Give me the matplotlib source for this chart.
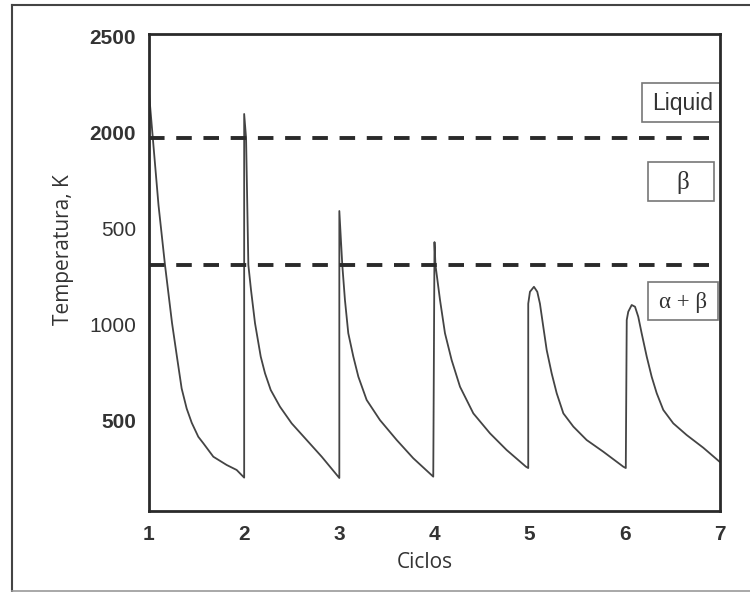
import matplotlib
matplotlib.use("Agg")
import matplotlib.pyplot as plt
from matplotlib.lines import Line2D
from matplotlib.patches import Rectangle

# temperature history (cycle number, K)
ciclos = [1.0, 1.04, 1.10, 1.168, 1.242, 1.294, 1.343, 1.396, 1.449, 1.518, 1.571, 1.676, 1.816, 1.921, 2.0,
          2.0, 2.02, 2.044, 2.072, 2.114, 2.174, 2.219, 2.279, 2.376, 2.499, 2.657, 2.815, 3.0,
          3.0, 3.031, 3.059, 3.094, 3.147, 3.2, 3.287, 3.427, 3.603, 3.777, 3.987,
          4.0, 4.01, 4.058, 4.11, 4.18, 4.268, 4.408, 4.583, 4.758, 4.961,
          4.985, 4.985, 5.003, 5.045, 5.08, 5.108, 5.143, 5.179, 5.231, 5.284, 5.354, 5.459, 5.599, 5.774, 5.984,
          6.01, 6.02, 6.036, 6.072, 6.107, 6.141, 6.177, 6.23, 6.282, 6.335, 6.404, 6.509, 6.65, 6.824, 7.0]
temp = [2205, 1971, 1620, 1309, 1006, 829, 665, 560, 486, 413, 379, 309, 266, 240, 200,
        2096, 1971, 1309, 1178, 1005, 831, 744, 657, 570, 483, 396, 309, 198,
        1590, 1309, 1126, 953, 831, 726, 605, 500, 396, 301, 205,
        1428, 1309, 1126, 953, 813, 674, 535, 431, 344, 257,
        250, 1107, 1169, 1195, 1169, 1107, 987, 865, 744, 640, 535, 466, 396, 335, 257,
        250, 1022, 1065, 1100, 1091, 1039, 952, 831, 726, 640, 553, 483, 422, 356, 281]

liquidus = 1971
beta_transus = 1309

yticks = [2500, 2000, 1500, 1000, 500]
ytick_labels = ["2500", "2000", "500", "1000", "500"]
xticks = [1, 2, 3, 4, 5, 6, 7]

txt = "#333333"

fig = plt.figure(figsize=(7.5, 5.92), dpi=100)
ax = fig.add_axes([149 / 750, 1 - 511 / 592, 571 / 750, 477 / 592])

ax.plot(ciclos, temp, color="#444444", linewidth=1.3)
for t in [liquidus, beta_transus]:
    ax.axhline(t, color="#2a2a2a", linewidth=2.8, dashes=(4, 3))

ax.set_xlim(1, 7)
ax.set_ylim(26, 2513)
for s in ax.spines.values():
    s.set_linewidth(2.0)
    s.set_color("#2a2a2a")

ax.set_xticks(xticks)
ax.set_xticklabels([str(x) for x in xticks], fontsize=15, fontweight="bold",
                   family="Liberation Sans", color=txt)
ax.set_yticks(yticks)
ax.set_yticklabels(ytick_labels, fontsize=15, family="Liberation Sans", color=txt)
for lab, w in zip(ax.get_yticklabels(), ["bold", "bold", "normal", "normal", "bold"]):
    lab.set_fontweight(w)
ax.tick_params(axis="both", length=0)
ax.tick_params(axis="y", pad=9.5)
ax.tick_params(axis="x", pad=10)

ax.set_xlabel("Ciclos", fontsize=15, family="Open Sans", color=txt, va="center")
ax.xaxis.set_label_coords(0.4834, -0.109)
ax.set_ylabel("Temperatura, K", fontsize=15, family="Open Sans", color=txt, va="center")
ax.yaxis.set_label_coords(-0.1506, 0.547)

# phase boxes
boxes = [("Liquid", 0.863, 0.8155, 0.137, 0.0815, 0.855, "Liberation Sans", 16.5),
         ("β", 0.874, 0.650, 0.1155, 0.082, 0.688, "Liberation Serif", 18),
         ("α + β", 0.874, 0.4004, 0.1225, 0.0796, 0.438, "Liberation Serif", 16.5)]
for label, x0, y0, w, h, ty, fam, size in boxes:
    ax.add_patch(Rectangle((x0, y0), w, h, transform=ax.transAxes, fill=False,
                           edgecolor="#777777", linewidth=1.2, clip_on=False))
    ax.text(0.9352, ty, label, transform=ax.transAxes, ha="center", va="center",
            fontsize=size, family=fam, color=txt)

# outer frame of the picture
fig.add_artist(Line2D([12 / 750, 12 / 750], [1 - 5 / 592, 1 - 591 / 592],
                      transform=fig.transFigure, color="#444444", linewidth=1.5))
fig.add_artist(Line2D([12 / 750, 1], [1 - 5 / 592, 1 - 5 / 592],
                      transform=fig.transFigure, color="#444444", linewidth=1.5))
fig.add_artist(Line2D([12 / 750, 1], [1 - 591 / 592, 1 - 591 / 592],
                      transform=fig.transFigure, color="#999999", linewidth=1.2))

fig.savefig("out.png", dpi=100)
plt.close(fig)
